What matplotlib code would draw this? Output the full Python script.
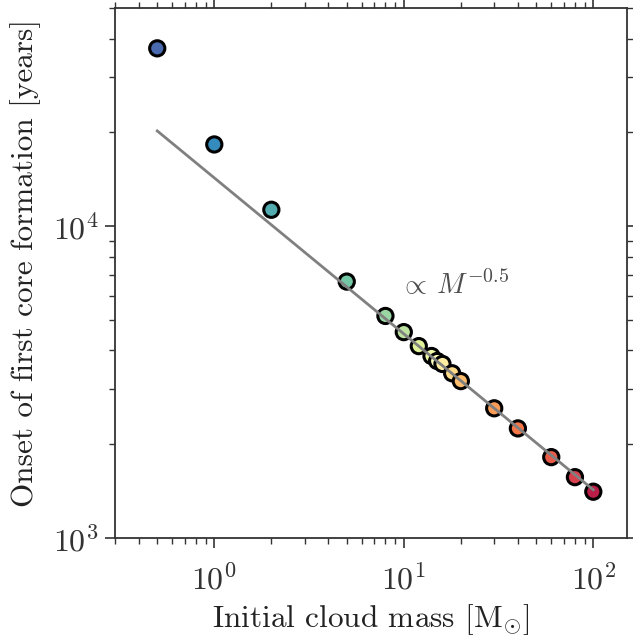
import numpy as np
import matplotlib
matplotlib.use("Agg")
import matplotlib.pyplot as plt

plt.rcParams["font.family"] = "cmr10"
plt.rcParams["mathtext.fontset"] = "cm"
plt.rcParams["axes.formatter.use_mathtext"] = True
plt.rcParams["axes.unicode_minus"] = False

# cloud masses [Msun] and onset of first core formation [yr]
mass = [0.5, 1, 2, 5, 8, 10, 12, 14, 15, 16, 18, 20, 30, 40, 60, 80, 100]
onset = [37200, 18300, 11300, 6650, 5160, 4580, 4130, 3840, 3700, 3620,
         3380, 3190, 2610, 2250, 1820, 1570, 1410]

# power-law guide
fit_mass = [0.5, 100]
fit_norm = 14300
fit_slope = -0.5

colors = plt.cm.Spectral_r(np.linspace(0.05, 0.95, len(mass)))

fig = plt.figure(figsize=(6.33, 6.37), dpi=100)
ax = fig.add_axes([0.182, 0.155, 0.808, 0.832])

ax.scatter(mass, onset, s=120, c=colors, edgecolors="black",
           linewidths=2.2, zorder=2)

fm = np.array(fit_mass, dtype=float)
ax.plot(fm, fit_norm * fm ** fit_slope, color="gray", lw=2, zorder=3)

ax.text(9.5, 6500, r"$\propto\, M^{-0.5}$", fontsize=20.5, color="#4d4d4d",
        ha="left", va="center")

ax.set_xscale("log")
ax.set_yscale("log")
ax.set_xlim(0.3, 150)
ax.set_ylim(1e3, 5e4)

ax.set_xlabel(r"Initial cloud mass [$\mathrm{M}_{\odot}$]", fontsize=22.5,
              color="#222222", labelpad=5)
ax.set_ylabel("Onset of first core formation [years]", fontsize=22.5,
              color="#222222")
ax.yaxis.set_label_coords(-0.145, 0.52)

ax.tick_params(which="both", direction="out", top=True, right=True,
               colors="#333333", labelsize=23)
ax.tick_params(which="major", length=7, width=1.2, pad=11)
ax.tick_params(which="minor", length=4, width=1.0)
ax.tick_params(axis="y", which="major", pad=5)
for sp in ax.spines.values():
    sp.set_linewidth(1.3)
    sp.set_color("#333333")

fig.savefig("out.png", dpi=100)
